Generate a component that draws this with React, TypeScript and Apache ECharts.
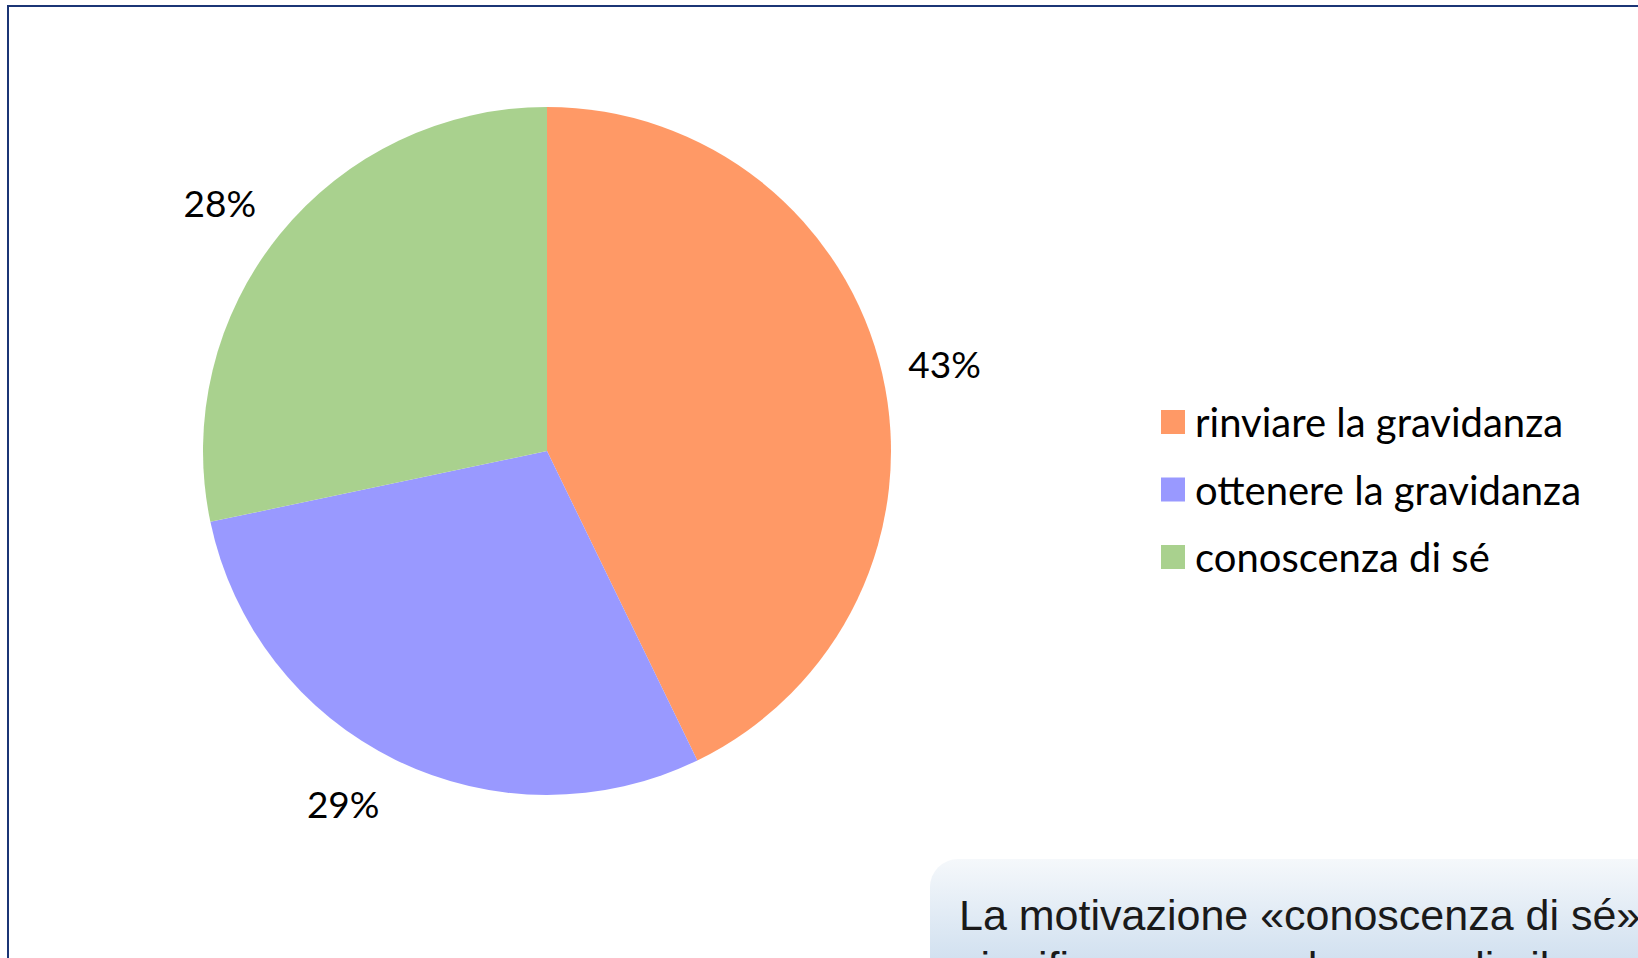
import React, { useEffect, useRef } from "react";
import * as echarts from "echarts";

const categories = ["rinviare la gravidanza", "ottenere la gravidanza", "conoscenza di sé"];
const values = [42.8, 28.9, 28.3];
const colors = ["#FF9966", "#9999FF", "#A9D18E"];
const noteLines = ["La motivazione «conoscenza di sé»", "significa comprendere meglio il proprio corpo"];
// small label nudges (layout only), to match the reference's label placement
const labelNudges = [[-3, 5], [-23, -17], [-8, 10]];

export default function App() {
  const ref = useRef<HTMLDivElement>(null);
  useEffect(() => {
    document.body.style.margin = "0";
    const chart = echarts.init(ref.current!, null, { renderer: "svg" });
    const data = categories.map((name, i) => ({ name, value: values[i], itemStyle: { color: colors[i] } }));
    const labelData = categories.map((name, i) => ({
      name,
      value: values[i],
      label: { offset: labelNudges[i] },
    }));
    chart.setOption({
      animation: false,
      backgroundColor: "#ffffff",
      legend: {
        orient: "vertical",
        left: 1156,
        top: 397,
        itemWidth: 24,
        itemHeight: 24,
        itemGap: 27.5,
        icon: "rect",
        data: categories,
        selectedMode: false,
        textStyle: {
          fontFamily: "Lato",
          fontSize: 40,
          lineHeight: 40,
          color: "#000000",
          padding: [0, 0, 0, 5],
        },
      },
      graphic: [
        {
          type: "rect",
          shape: { x: 8, y: 6, width: 1700, height: 1000 },
          style: { fill: "none", stroke: "#1B3575", lineWidth: 2 },
          silent: true,
          z: 10,
        },
        {
          type: "rect",
          shape: { x: 930, y: 859, width: 800, height: 300, r: 28 },
          style: {
            fill: new echarts.graphic.LinearGradient(0, 0, 0, 1, [
              { offset: 0, color: "#F5F8FB" },
              { offset: 0.33, color: "#D2E1F0" },
              { offset: 1, color: "#B9CFE8" },
            ]),
          },
          silent: true,
        },
        {
          type: "text",
          x: 959,
          y: 936,
          style: {
            text: noteLines[0],
            fontFamily: "Liberation Sans",
            fontSize: 43,
            fill: "#1a1a1a",
            textVerticalAlign: "bottom",
          },
          silent: true,
        },
        {
          type: "text",
          x: 959,
          y: 988,
          style: {
            text: noteLines[1],
            fontFamily: "Liberation Sans",
            fontSize: 43,
            fill: "#1a1a1a",
            textVerticalAlign: "bottom",
          },
          silent: true,
        },
      ],
      series: [
        {
          type: "pie",
          center: [547, 451],
          radius: [0, 344],
          startAngle: 90,
          clockwise: true,
          data,
          label: { show: false },
          labelLine: { show: false },
          emphasis: { disabled: true },
          silent: true,
        },
        {
          type: "pie",
          center: [547, 451],
          radius: [0, 816],
          startAngle: 90,
          clockwise: true,
          data: labelData,
          itemStyle: { color: "rgba(0,0,0,0)" },
          label: {
            show: true,
            position: "inside",
            formatter: (p: any) => Math.round(p.percent) + "%",
            fontFamily: "Lato",
            fontSize: 37,
            color: "#000000",
          },
          labelLine: { show: false },
          emphasis: { disabled: true },
          silent: true,
          z: 1,
        },
      ],
    });
    return () => chart.dispose();
  }, []);
  return <div ref={ref} style={{ width: 1638, height: 958 }} />;
}
